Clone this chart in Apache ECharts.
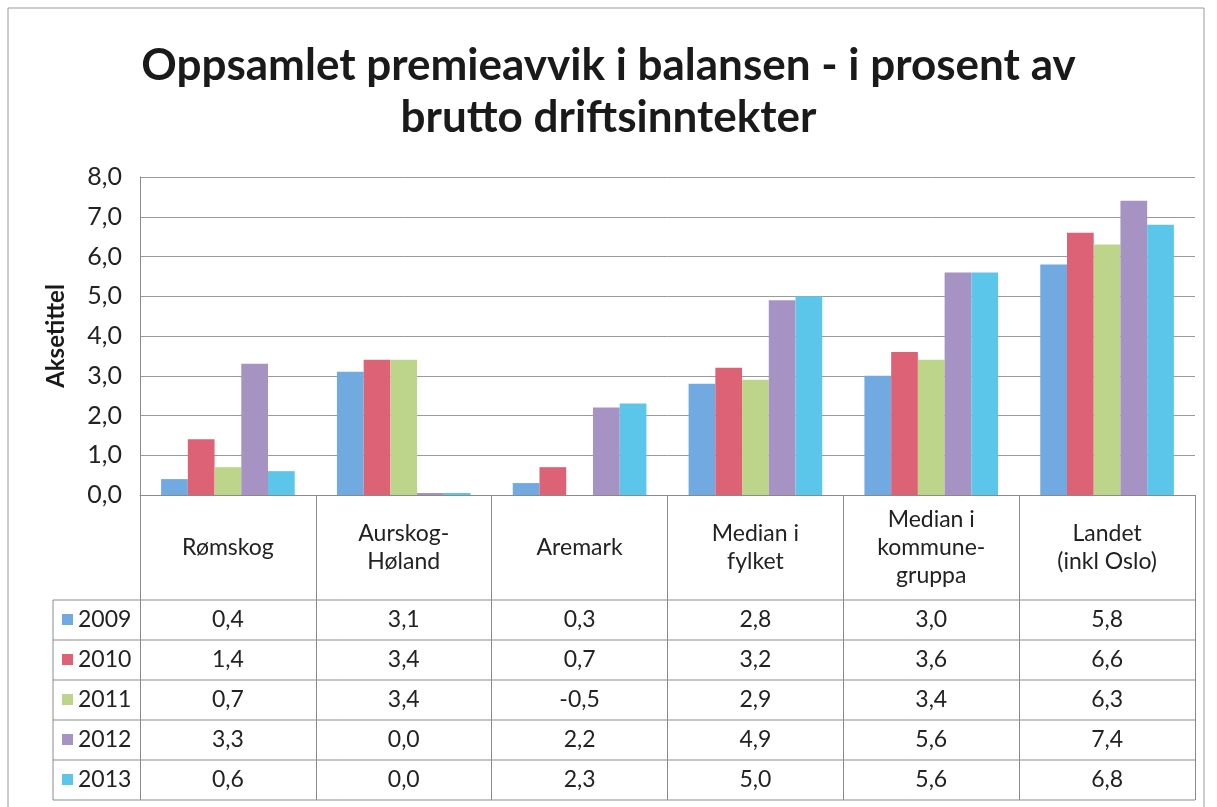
<!DOCTYPE html>
<html style='height: 100%'>
<head>
    <meta charset='utf-8'>
</head>
<body style='height: 100%; margin: 0; background: #fff'>
    <div id='container' style='height: 100%'></div>
    <script type='text/javascript' src='https://cdn.jsdelivr.net/npm/echarts@6/dist/echarts.min.js'></script>
    <script type="text/javascript">

// kategorier og verdier lest av tabellen
var categories = ['Rømskog', 'Aurskog-\nHøland', 'Aremark', 'Median i\nfylket', 'Median i\nkommune-\ngruppa', 'Landet\n(inkl Oslo)'];
var years = ['2009', '2010', '2011', '2012', '2013'];
var v2009 = [0.4, 3.1, 0.3, 2.8, 3.0, 5.8];
var v2010 = [1.4, 3.4, 0.7, 3.2, 3.6, 6.6];
var v2011 = [0.7, 3.4, -0.5, 2.9, 3.4, 6.3];
var v2012 = [3.3, 0.0, 2.2, 4.9, 5.6, 7.4];
var v2013 = [0.6, 0.0, 2.3, 5.0, 5.6, 6.8];
var colors = ['#70aae0', '#de6275', '#bdd58a', '#a693c4', '#5cc6ea'];

var allValues = [v2009, v2010, v2011, v2012, v2013];
var font = 'Lato';

var dom = document.getElementById("container");
var myChart = echarts.init(dom);

var series = [];
for (var i = 0; i < years.length; i++) {
    series.push({
        name: years[i],
        type: 'bar',
        data: allValues[i],
        barGap: '0%',
        barCategoryGap: '24%',
        barMinHeight: 2,
        clip: true,
        itemStyle: { color: colors[i] }
    });
}

var option = {
    animation: false,
    title: {
        text: 'Oppsamlet premieavvik i balansen - i prosent av\nbrutto driftsinntekter',
        left: 'center',
        top: 40,
        padding: [0, 0, 0, 16],
        textStyle: {
            fontFamily: font,
            fontWeight: 'bold',
            fontSize: 44,
            lineHeight: 52,
            color: '#1a1a1a'
        }
    },
    grid: { left: 140, right: 22, top: 177, bottom: 312 },
    xAxis: {
        type: 'category',
        data: categories,
        axisLine: { lineStyle: { color: '#8a8a8a', width: 1 } },
        axisTick: { show: true, length: 305, lineStyle: { color: '#8a8a8a' } },
        axisLabel: {
            margin: 53,
            verticalAlign: 'middle',
            fontFamily: font,
            fontSize: 23,
            lineHeight: 28,
            color: '#222'
        }
    },
    yAxis: {
        type: 'value',
        min: 0,
        max: 8,
        interval: 1,
        name: 'Aksetittel',
        nameLocation: 'middle',
        nameGap: 72,
        nameRotate: 90,
        nameTextStyle: { fontFamily: font, fontWeight: 'bold', fontSize: 24, color: '#1a1a1a' },
        axisLine: { show: true, lineStyle: { color: '#8a8a8a' } },
        axisTick: { show: false },
        splitLine: { lineStyle: { color: '#9a9a9a', width: 1 } },
        axisLabel: {
            fontFamily: font,
            fontSize: 25,
            color: '#222',
            margin: 18,
            formatter: function (v) { return v.toFixed(1).replace('.', ','); }
        }
    },
    series: series
};
myChart.setOption(option, true);

// datatabell under diagrammet
var tableLeft = 53, headBottom = 600, rowH = 40;
var plotRight = 1217 - 22;
var gfx = [];
gfx.push({ type: 'rect', shape: { x: 8, y: 8, width: 1196, height: 820 }, style: { fill: null, stroke: '#9a9a9a', lineWidth: 1 } });
for (var r = 0; r <= years.length; r++) {
    var y = headBottom + r * rowH;
    gfx.push({ type: 'line', shape: { x1: tableLeft, y1: y, x2: plotRight, y2: y }, style: { stroke: '#8a8a8a', lineWidth: 1 } });
}
gfx.push({ type: 'line', shape: { x1: tableLeft, y1: headBottom, x2: tableLeft, y2: headBottom + years.length * rowH }, style: { stroke: '#8a8a8a', lineWidth: 1 } });
for (var r = 0; r < years.length; r++) {
    var cy = headBottom + r * rowH + rowH / 2;
    gfx.push({ type: 'rect', shape: { x: 62, y: cy - 6, width: 11, height: 11 }, style: { fill: colors[r] } });
    gfx.push({ type: 'text', x: 78, y: cy, style: { text: years[r], font: '23px ' + font, fill: '#222', verticalAlign: 'middle' } });
    for (var c = 0; c < categories.length; c++) {
        var cx = myChart.convertToPixel({ xAxisIndex: 0 }, c);
        gfx.push({ type: 'text', x: cx, y: cy, style: { text: allValues[r][c].toFixed(1).replace('.', ','), font: '23px ' + font, fill: '#222', align: 'center', verticalAlign: 'middle' } });
    }
}
myChart.setOption({ graphic: gfx });
       </script>
   </body>
</html>
